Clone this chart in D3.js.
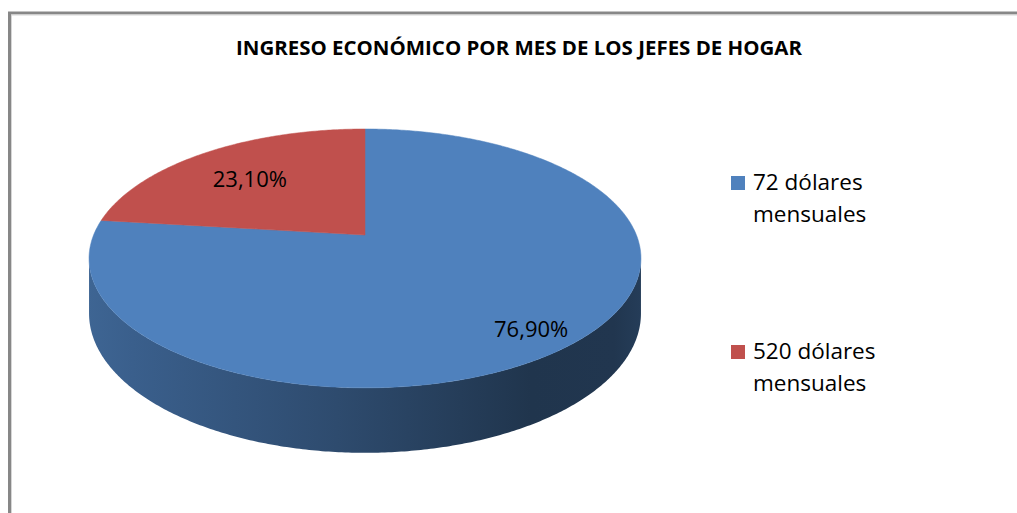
<!DOCTYPE html>
<html>
<head lang="es">
	<meta charset="UTF-8">
	<title>Ingreso económico por mes</title>
	<script src="https://cdn.jsdelivr.net/npm/d3@7"></script>
	<style type="text/css">
		body { margin: 0; background: #fff; }
		svg { display: block; }
		text { font-family: "Open Sans", "Noto Sans", sans-serif; fill: #000; }
	</style>
</head>
<body>
	<svg id="chart" width="1017" height="513" version="1.1" xmlns="http://www.w3.org/2000/svg"></svg>
	<script type="text/javascript">
		var title = 'INGRESO ECONÓMICO POR MES DE LOS JEFES DE HOGAR';
		var categories = ['72 dólares mensuales', '520 dólares mensuales'];
		var legendLines = [['72 dólares', 'mensuales'], ['520 dólares', 'mensuales']];
		var values = [76.9, 23.1];
		var labels = ['76,90%', '23,10%'];
		var colors = ['#4f81bd', '#c0504d'];

		// tilted disk, simple perspective (far side smaller)
		var cx = 365, cy = 235, A = 271.4, B = 125.2, K = 0.181, H = 53.2;

		function proj(t, f, down) {
			var u = f * Math.sin(t), v = f * Math.cos(t);
			var w = 1 + K * v;
			return [cx + A * u / w, cy - B * v / w + (down ? H / w : 0)];
		}

		function arcPoints(a0, a1, f, down) {
			var n = Math.max(2, Math.ceil((a1 - a0) / 0.01));
			return d3.range(n + 1).map(function (i) { return proj(a0 + (a1 - a0) * i / n, f, down); });
		}

		var svg = d3.select('#chart');
		var defs = svg.append('defs');

		// chart border (right and bottom edges fall off the picture)
		svg.append('path').attr('d', 'M9.5,520V13H1030').attr('fill', 'none')
			.attr('stroke', '#878787').attr('stroke-width', 3);
		svg.append('path').attr('d', 'M11.5,520V15H1030').attr('fill', 'none')
			.attr('stroke', '#d6d6d6').attr('stroke-width', 1);

		svg.append('text')
			.attr('x', 519).attr('y', 55)
			.attr('text-anchor', 'middle')
			.attr('font-size', 19).attr('font-weight', 700)
			.attr('textLength', 566).attr('lengthAdjust', 'spacingAndGlyphs')
			.text(title);

		var pie = d3.pie().sort(null).value(function (d) { return d; });
		var arcs = pie(values);

		// visible front wall runs between the two horizontal extremes
		var tR = Math.PI / 2 + Math.asin(K), tL = 3 * Math.PI / 2 - Math.asin(K);
		var line = d3.line();

		arcs.forEach(function (a, i) {
			var s = Math.max(a.startAngle, tR), e = Math.min(a.endAngle, tL);
			if (e <= s) return;
			var base = d3.color(colors[i]);
			var g = defs.append('linearGradient').attr('id', 'side' + i)
				.attr('gradientUnits', 'userSpaceOnUse')
				.attr('x1', cx - A * 1.02).attr('x2', cx + A * 1.02).attr('y1', 0).attr('y2', 0);
			[[0, 0.78], [0.08, 0.74], [0.45, 0.58], [0.8, 0.41], [0.95, 0.42], [1, 0.47]].forEach(function (st) {
				var c = d3.rgb(base.r * st[1], base.g * st[1], base.b * st[1]);
				g.append('stop').attr('offset', st[0]).attr('stop-color', c.formatHex());
			});
			var pts = arcPoints(s, e, 1, false).concat(arcPoints(s, e, 1, true).reverse());
			svg.append('path').attr('d', line(pts) + 'Z').attr('fill', 'url(#side' + i + ')');
		});

		arcs.forEach(function (a, i) {
			var pts = [[cx, cy]].concat(arcPoints(a.startAngle, a.endAngle, 1, false));
			svg.append('path').attr('d', line(pts) + 'Z')
				.attr('fill', colors[i]).attr('stroke', colors[i]).attr('stroke-width', 0.5);
		});

		var labelFrac = [0.82, 0.7];
		var labelDy = [16, 12];
		arcs.forEach(function (a, i) {
			var p = proj((a.startAngle + a.endAngle) / 2, labelFrac[i], false);
			svg.append('text')
				.attr('x', p[0]).attr('y', p[1] + labelDy[i])
				.attr('text-anchor', 'middle')
				.attr('font-size', 22)
				.text(labels[i]);
		});

		var legendY = d3.scaleOrdinal().domain(categories).range([176, 345]);
		var legend = svg.selectAll('g.legend').data(categories).enter().append('g')
			.attr('class', 'legend')
			.attr('transform', function (d) { return 'translate(731,' + legendY(d) + ')'; });
		legend.append('rect').attr('width', 14).attr('height', 14)
			.attr('fill', function (d, i) { return colors[i]; });
		legend.each(function (d, i) {
			var gg = d3.select(this);
			legendLines[i].forEach(function (t, j) {
				gg.append('text').attr('x', 22).attr('y', 14 + j * 32)
					.attr('font-size', 22.5).text(t);
			});
		});
	</script>
</body>
</html>
